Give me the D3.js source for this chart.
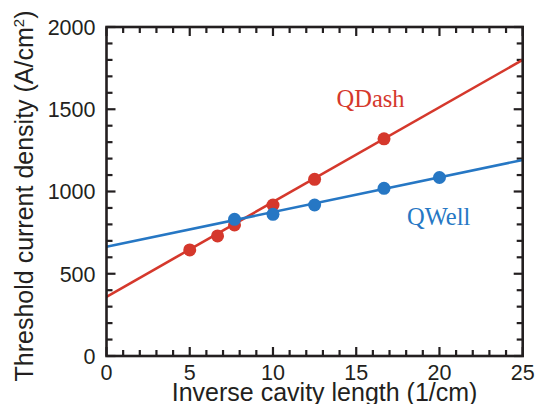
<!DOCTYPE html>
<html>
<head>
<meta charset="utf-8">
<script src="https://cdn.jsdelivr.net/npm/d3@7/dist/d3.min.js"></script>
<style>
  html, body { margin: 0; padding: 0; background: #fff; }
  svg { display: block; }
  .tick-label { font-family: "Liberation Sans", Arial, Helvetica, sans-serif; font-size: 21.5px; fill: #231f20; }
  .axis-title { font-family: "Liberation Sans", Arial, Helvetica, sans-serif; font-size: 25px; fill: #231f20; }
  .series-label { font-family: "Liberation Serif", "Times New Roman", serif; font-size: 24.5px; }
</style>
</head>
<body>
<svg id="chart" width="536" height="404"></svg>
<script>
// Threshold current density vs inverse cavity length
const xTicks = [0, 5, 10, 15, 20, 25];
const yTicks = [0, 500, 1000, 1500, 2000];

// Measured points (1/cm, A/cm^2)
const qdashX = [5, 6.67, 7.69, 10, 12.5, 16.67];
const qdashY = [645, 730, 797, 918, 1074, 1320];
const qwellX = [7.69, 10, 12.5, 16.67, 20];
const qwellY = [831, 861, 918, 1019, 1085];

// Linear fit end points
const qdashFitX = [0, 25];
const qdashFitY = [360, 1800];
const qwellFitX = [0, 25];
const qwellFitY = [664, 1192];

const colors = { qdash: "#d5382c", qwell: "#2677c4", axis: "#231f20" };

const svg = d3.select("#chart");
const m = { left: 106.5, right: 522.7, top: 27, bottom: 356 };

const x = d3.scaleLinear().domain([0, 25]).range([m.left, m.right]);
const y = d3.scaleLinear().domain([0, 2000]).range([m.bottom, m.top]);

const minorX = d3.range(0, 26, 1);
const minorY = d3.range(0, 2001, 100);

// Frame axes with inward ticks on all four sides
function frameAxis(axisGen, transform) {
  const g = svg.append("g").attr("transform", transform).call(axisGen);
  g.selectAll("text").remove();
  g.select(".domain").remove();
  g.selectAll("line").attr("stroke", colors.axis).attr("stroke-width", 2.2);
  return g;
}

const isMajorX = v => v % 5 === 0;
const isMajorY = v => v % 500 === 0;

function ticksOn(side) {
  const vals = (side === "bottom" || side === "top") ? minorX : minorY;
  const major = (side === "bottom" || side === "top") ? isMajorX : isMajorY;
  vals.forEach(v => {
    const len = major(v) ? 9 : 6;
    let x1, y1, x2, y2;
    if (side === "bottom") { x1 = x2 = x(v); y1 = m.bottom; y2 = m.bottom - len; }
    if (side === "top") { x1 = x2 = x(v); y1 = m.top; y2 = m.top + len; }
    if (side === "left") { y1 = y2 = y(v); x1 = m.left; x2 = m.left + len; }
    if (side === "right") { y1 = y2 = y(v); x1 = m.right; x2 = m.right - len; }
    svg.append("line")
      .attr("x1", x1).attr("y1", y1).attr("x2", x2).attr("y2", y2)
      .attr("stroke", colors.axis).attr("stroke-width", 2.2);
  });
}
["bottom", "top", "left", "right"].forEach(ticksOn);

// Tick labels
svg.append("g").selectAll("text").data(xTicks).join("text")
  .attr("class", "tick-label")
  .attr("x", d => x(d))
  .attr("y", 380)
  .attr("text-anchor", "middle")
  .text(d => d);

svg.append("g").selectAll("text").data(yTicks).join("text")
  .attr("class", "tick-label")
  .attr("x", 95.5)
  .attr("y", d => y(d) + 7.8)
  .attr("text-anchor", "end")
  .text(d => d);

// Data lines and markers
const line = d3.line().x(d => x(d[0])).y(d => y(d[1]));

function drawSeries(fx, fy, px, py, color) {
  svg.append("path")
    .datum(fx.map((v, i) => [v, fy[i]]))
    .attr("d", line)
    .attr("fill", "none")
    .attr("stroke", color)
    .attr("stroke-width", 2.6);
  svg.append("g").selectAll("circle")
    .data(px.map((v, i) => [v, py[i]]))
    .join("circle")
    .attr("cx", d => x(d[0]))
    .attr("cy", d => y(d[1]))
    .attr("r", 6.5)
    .attr("fill", color);
}

drawSeries(qdashFitX, qdashFitY, qdashX, qdashY, colors.qdash);
drawSeries(qwellFitX, qwellFitY, qwellX, qwellY, colors.qwell);

// Frame box
svg.append("rect")
  .attr("x", m.left).attr("y", m.top)
  .attr("width", m.right - m.left).attr("height", m.bottom - m.top)
  .attr("fill", "none")
  .attr("stroke", colors.axis)
  .attr("stroke-width", 2.6);

// Series labels
svg.append("text").attr("class", "series-label")
  .attr("x", 336.5).attr("y", 107)
  .attr("fill", colors.qdash)
  .text("QDash");
svg.append("text").attr("class", "series-label")
  .attr("x", 407).attr("y", 225)
  .attr("fill", colors.qwell)
  .text("QWell");

// Axis titles
svg.append("text").attr("class", "axis-title")
  .attr("x", (m.left + m.right) / 2 + 10)
  .attr("y", 401)
  .attr("text-anchor", "middle")
  .text("Inverse cavity length (1/cm)");

const yt = svg.append("text").attr("class", "axis-title")
  .attr("transform", "translate(32.5,196) rotate(-90)")
  .attr("text-anchor", "middle");
yt.append("tspan").text("Threshold current density (A/cm");
yt.append("tspan").attr("font-size", "15px").attr("dy", -9).text("2");
yt.append("tspan").attr("dy", 9).text(")");
</script>
</body>
</html>
